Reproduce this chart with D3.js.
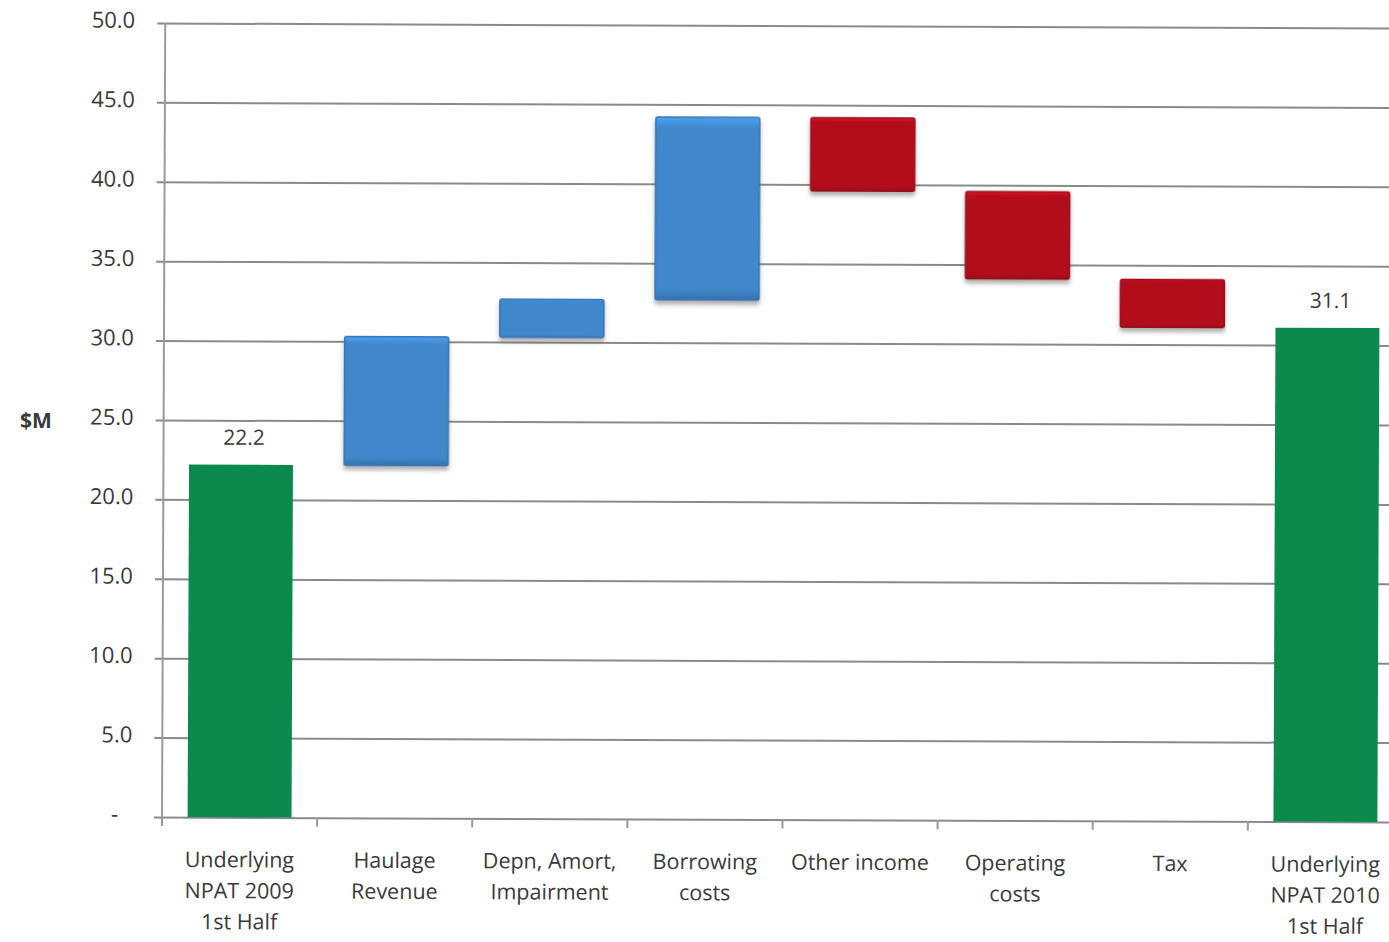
<!DOCTYPE html>
<html>
<head>
<meta charset="utf-8">
<script src="https://cdn.jsdelivr.net/npm/d3@7"></script>
<style>
  html, body { margin: 0; padding: 0; background: #fff; }
  svg { display: block; }
  text { font-family: "Open Sans", "Noto Sans", sans-serif; fill: #3a3a3a; }
</style>
</head>
<body>
<svg id="chart" width="1389" height="942"></svg>
<script>
// Half-year NPAT bridge, $M
const categories = [
  ["Underlying", "NPAT 2009", "1st Half"],
  ["Haulage", "Revenue"],
  ["Depn, Amort,", "Impairment"],
  ["Borrowing", "costs"],
  ["Other income"],
  ["Operating", "costs"],
  ["Tax"],
  ["Underlying", "NPAT 2010", "1st Half"]
];
const startValue = 22.2;
const changes = [8.1, 2.4, 11.5, -4.6, -5.5, -3.0];
const endValue = 31.1;
const yTicks = [0, 5, 10, 15, 20, 25, 30, 35, 40, 45, 50];
const yTickLabels = ["-", "5.0", "10.0", "15.0", "20.0", "25.0", "30.0", "35.0", "40.0", "45.0", "50.0"];
const valueLabels = ["22.2", "31.1"];

const colors = { total: "#0b8a4e", up: "#3f87cc", down: "#b3101f" };

(function () {
  // Build waterfall segments
  const segments = [];
  segments.push({ i: 0, y0: 0, y1: startValue, kind: "total", label: valueLabels[0] });
  let running = startValue;
  changes.forEach((d, k) => {
    const a = running, b = running + d;
    segments.push({ i: k + 1, y0: Math.min(a, b), y1: Math.max(a, b), kind: d >= 0 ? "up" : "down" });
    running = b;
  });
  segments.push({ i: categories.length - 1, y0: 0, y1: endValue, kind: "total", label: valueLabels[1] });

  const svg = d3.select("#chart");
  const pLeft = 162, pRight = 1403, pTop = 23, pBottom = 817;

  const x = d3.scaleBand().domain(d3.range(categories.length)).range([pLeft, pRight]).paddingInner(0.33).paddingOuter(0.165);
  const xOuter = d3.scaleBand().domain(d3.range(categories.length)).range([pLeft, pRight]);
  const y = d3.scaleLinear().domain([0, 50]).range([pBottom, pTop]);

  const defs = svg.append("defs");
  const shadow = defs.append("filter").attr("id", "shadow").attr("x", "-10%").attr("y", "-10%").attr("width", "120%").attr("height", "130%");
  shadow.append("feDropShadow").attr("dx", 0).attr("dy", 4).attr("stdDeviation", 2).attr("flood-color", "#555").attr("flood-opacity", 0.45);

  ["up", "down"].forEach(k => {
    const base = d3.color(colors[k]);
    const g = defs.append("linearGradient").attr("id", "bev-" + k).attr("x1", 0).attr("x2", 0).attr("y1", 0).attr("y2", 1);
    g.append("stop").attr("offset", "0%").attr("stop-color", base.brighter(0.5));
    g.append("stop").attr("offset", "6%").attr("stop-color", base);
    g.append("stop").attr("offset", "94%").attr("stop-color", base);
    g.append("stop").attr("offset", "100%").attr("stop-color", base.darker(0.5));
  });

  // Slight tilt of the whole drawing
  const angle = Math.atan2(5, 1226) * 180 / Math.PI;
  const root = svg.append("g").attr("transform", `rotate(${angle}, ${pLeft}, ${pBottom})`);

  // Gridlines and y ticks
  const yAxis = d3.axisLeft(y).tickValues(yTicks).tickSize(-(pRight - pLeft)).tickSizeOuter(0)
    .tickFormat((d, i) => yTickLabels[i]).tickPadding(30);
  const ga = root.append("g").attr("transform", `translate(${pLeft},0)`).call(yAxis);
  ga.select(".domain").remove();
  ga.selectAll(".tick line").attr("stroke", "#8a8a8a").attr("stroke-width", 2).attr("x1", -8);
  ga.selectAll(".tick text").attr("font-size", 22).attr("fill", "#3a3a3a").attr("dy", "0.2em")
    .attr("font-family", "'Open Sans', 'Noto Sans', sans-serif")
    .attr("dx", d => d === 0 ? -14 : 0);

  // Left axis line
  root.append("line").attr("x1", pLeft).attr("x2", pLeft).attr("y1", pTop).attr("y2", pBottom + 8)
    .attr("stroke", "#9a9a9a").attr("stroke-width", 2);

  // Category ticks
  root.append("g").selectAll("line").data(d3.range(categories.length + 1)).join("line")
    .attr("x1", i => pLeft + i * xOuter.step()).attr("x2", i => pLeft + i * xOuter.step())
    .attr("y1", pBottom).attr("y2", pBottom + 9).attr("stroke", "#9a9a9a").attr("stroke-width", 2);

  // Bars
  const bars = root.append("g");
  bars.selectAll("rect.bar").data(segments).join("rect").attr("class", "bar")
    .attr("x", d => x(d.i)).attr("width", x.bandwidth())
    .attr("y", d => y(d.y1)).attr("height", d => y(d.y0) - y(d.y1))
    .attr("fill", d => d.kind === "total" ? colors.total : `url(#bev-${d.kind})`)
    .attr("stroke", d => d3.color(colors[d.kind]).darker(0.4))
    .attr("stroke-width", d => d.kind === "total" ? 0 : 1.5)
    .attr("filter", d => d.kind === "total" ? null : "url(#shadow)")
    .attr("rx", d => d.kind === "total" ? 0 : 2);

  // Value labels on totals
  root.append("g").selectAll("text").data(segments.filter(d => d.label)).join("text")
    .attr("x", d => x(d.i) + x.bandwidth() / 2 + 3).attr("y", d => y(d.y1) - 20)
    .attr("text-anchor", "middle").attr("font-size", 21).text(d => d.label);

  // Category labels
  const cat = root.append("g").selectAll("text").data(categories).join("text")
    .attr("x", (d, i) => xOuter(i) + xOuter.bandwidth() / 2)
    .attr("y", pBottom + 50).attr("text-anchor", "middle").attr("font-size", 21.5);
  cat.selectAll("tspan").data(d => d).join("tspan")
    .attr("x", function () { return d3.select(this.parentNode).attr("x"); })
    .attr("dy", (d, i) => i === 0 ? 0 : 31).text(d => d);

  // Axis title
  svg.append("text").attr("x", 36).attr("y", 428).attr("text-anchor", "middle")
    .attr("font-size", 21).attr("font-weight", "bold").text("$M");
})();
</script>
</body>
</html>
